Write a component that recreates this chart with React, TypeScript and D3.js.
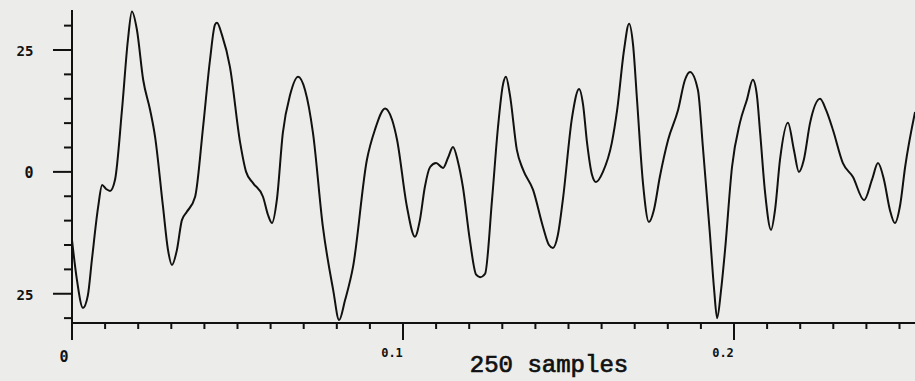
import React from "react";
import * as d3 from "d3";

// sample index (1 kHz sampling -> seconds = sample/1000)
const samples = [0,1.5,3.3,4.8,6.0,7.9,9.1,10.3,11.5,13.0,15.1,16.9,18.1,19.6,21.5,23.6,25.1,27.5,29.0,30.2,31.7,33.2,34.7,37.2,39.6,41.7,43.2,43.8,45.3,47.7,50.8,52.6,54.7,57.7,59.2,60.4,61.9,63.7,65.9,68.3,70.4,72.8,75.8,78.9,80.7,82.5,84.9,89.1,91.5,94.6,96.7,98.2,101.2,103.6,105.1,106.6,108.2,110.0,112.1,113.6,115.1,116.6,118.1,120.2,122.1,123.3,124.8,126.9,128.7,130.2,131.1,132.3,134.4,136.3,139.3,142.3,144.1,145.3,146.8,148.3,151.1,153.2,154.4,155.6,157.1,158.3,160.4,163.1,164.7,166.8,168.3,169.5,170.7,172.5,174.3,175.8,177.6,180.1,183.1,185.2,186.7,189.1,190.6,192.7,194.0,194.9,196.1,197.3,199.4,201.8,203.9,205.7,206.9,207.9,209.4,211.2,212.4,213.9,216.3,218.1,219.6,221.1,223.0,226.0,227.8,229.9,232.9,235.9,239.3,241.7,243.5,245.3,247.1,248.6,250.2,251.7,254.7];
const amplitudes = [-14.0,-22.2,-27.9,-25.3,-18.1,-7.2,-2.7,-3.5,-3.9,-1.6,12.7,27.1,32.9,29.2,18.9,12.7,7.2,-7.2,-16.0,-19.1,-16.0,-9.9,-8.2,-5.1,9.2,23.0,30.2,30.6,28.1,21.6,6.0,0,-2.3,-5.1,-8.8,-10.5,-5.7,8.0,15.8,19.5,16.8,8.0,-11.3,-24.2,-30.4,-26.3,-19.5,2.5,8.6,13.0,10.7,6.6,-7.2,-13.3,-9.9,-3.1,1.0,1.8,0.8,2.9,5.1,2.1,-3.1,-14.0,-21.1,-21.6,-20.9,-5.7,9.2,17.9,19.5,15.8,4.5,0.4,-3.7,-11.3,-15.0,-15.6,-12.9,-5.7,11.3,17.0,13.8,6.0,-0.6,-2.1,0,6.0,12.7,25.1,30.4,26.1,14.8,-2.3,-10.3,-7.8,-1.0,6.6,12.7,18.9,20.5,16.8,5.1,-12.5,-24.2,-30.0,-24.2,-16.0,1.0,10.1,14.8,18.9,15.8,8.0,-4.3,-11.9,-7.8,2.5,10.1,4.5,0,2.5,10.1,15.0,12.7,8.6,1.8,-1.0,-5.8,-1.6,1.8,-1.6,-7.8,-10.5,-6.8,1.0,12.3];

const yTickValues = [-30,-25,-20,-15,-10,-5,0,5,10,15,20,25,30];
const yLabels = [{ v: 25, text: "25" }, { v: 0, text: "0" }, { v: -25, text: "25" }];
const xMinorTicks = d3.range(0, 26).map((i) => i / 100);
const xLabels = [{ v: 0, text: "0" }, { v: 0.1, text: "0.1" }, { v: 0.2, text: "0.2" }];
const xTitle = "250 samples";

const W = 915, H = 381;

export default function App() {
  const x = d3.scaleLinear().domain([0, 0.2]).range([72, 734]);
  const y = d3.scaleLinear().domain([-31, 33]).range([323, 11]);
  const data = samples.map((s, i) => [s / 1000, amplitudes[i]] as [number, number]);
  const line = d3.line<[number, number]>().x((d) => x(d[0])).y((d) => y(d[1])).curve(d3.curveMonotoneX);
  const axisX = x(0);
  const axisY = y(-31);
  const ink = "#111";
  return (
    <svg width={W} height={H} style={{ position: "absolute", left: 0, top: 0, background: "#ececea" }}>
      <rect x={0} y={0} width={W} height={H} fill="#ececea" />
      {/* y axis */}
      <line x1={axisX} x2={axisX} y1={10} y2={340} stroke={ink} strokeWidth={2} />
      {yTickValues.map((v) => {
        const major = v === 25 || v === 0 || v === -25;
        return (
          <line key={v} x1={major ? axisX - 19 : axisX - 8} x2={axisX} y1={y(v)} y2={y(v)} stroke={ink} strokeWidth={2} />
        );
      })}
      {yLabels.map((l) => (
        <text key={l.v} x={l.text === "0" ? 29 : 25} y={y(l.v) + 6} textAnchor="middle" fontFamily="DejaVu Sans Mono" fontWeight="bold" fontSize={l.text === "0" ? 15 : 14} fill={ink}>
          {l.text}
        </text>
      ))}
      {/* x axis */}
      <line x1={axisX} x2={W} y1={axisY} y2={axisY} stroke={ink} strokeWidth={2} />
      {xMinorTicks.map((v, i) => {
        const major = i % 10 === 0;
        return (
          <line key={i} x1={x(v)} x2={x(v)} y1={axisY} y2={major ? 340 : axisY + 6} stroke={ink} strokeWidth={2} />
        );
      })}
      {xLabels.map((l) => (
        <text key={l.v} x={l.v === 0 ? x(l.v) - 8 : x(l.v) - 11} y={l.v === 0 ? 362 : 357} textAnchor="middle" fontFamily="DejaVu Sans Mono" fontWeight="bold" fontSize={l.v === 0 ? 15 : 12} fill={ink}>
          {l.text}
        </text>
      ))}
      <text x={549} y={372} textAnchor="middle" fontFamily="Liberation Mono" fontSize={24} fill={ink} stroke={ink} strokeWidth={0.7}>
        {xTitle}
      </text>
      <path d={line(data) || ""} fill="none" stroke={ink} strokeWidth={2} strokeLinejoin="round" />
    </svg>
  );
}
